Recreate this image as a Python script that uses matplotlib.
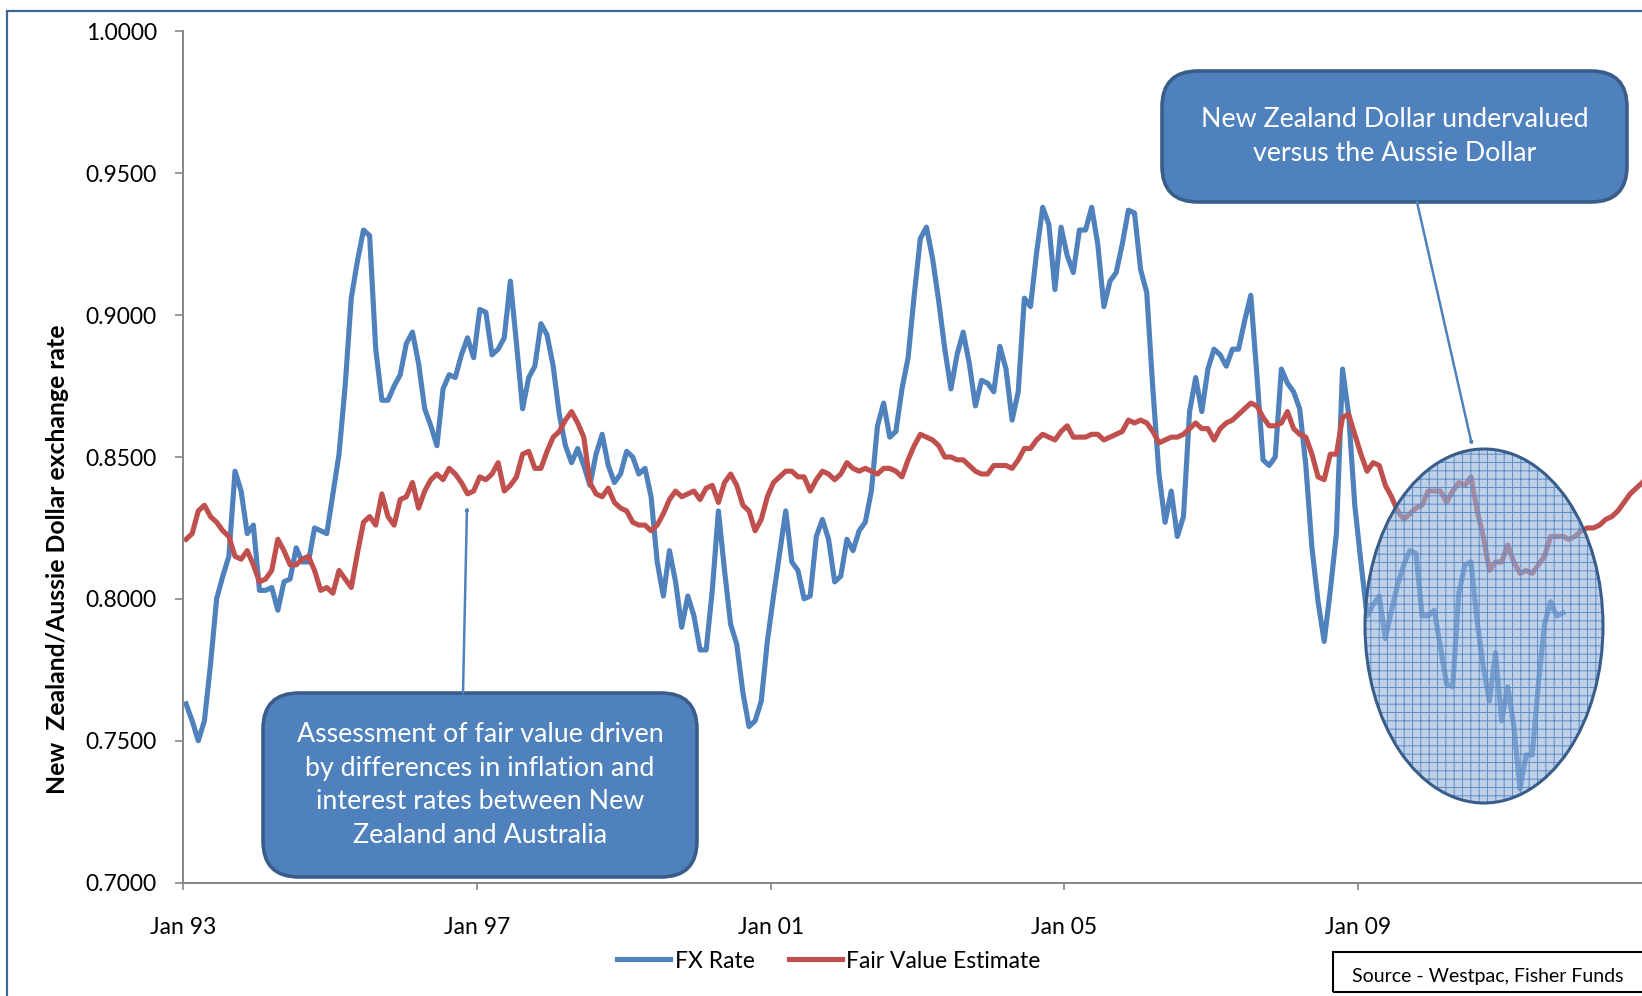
import numpy as np
import matplotlib
matplotlib.use("Agg")
import matplotlib.pyplot as plt
from matplotlib.patches import FancyBboxPatch, Ellipse, Rectangle, FancyArrowPatch

plt.rcParams['font.family'] = ['Lato', 'DejaVu Sans']

# Monthly NZD/AUD rate from Jan 1993
fx_rate = [
    0.763, 0.757, 0.750, 0.757, 0.777, 0.800, 0.808, 0.815, 0.845, 0.838, 0.823, 0.826,
    0.803, 0.803, 0.804, 0.796, 0.806, 0.807, 0.818, 0.813, 0.813, 0.825, 0.824, 0.823,
    0.837, 0.851, 0.875, 0.906, 0.919, 0.930, 0.928, 0.888, 0.870, 0.870, 0.875, 0.879,
    0.890, 0.894, 0.883, 0.867, 0.861, 0.854, 0.874, 0.879, 0.878, 0.886, 0.892, 0.885,
    0.902, 0.901, 0.886, 0.888, 0.892, 0.912, 0.890, 0.867, 0.878, 0.882, 0.897, 0.893,
    0.882, 0.865, 0.854, 0.848, 0.853, 0.847, 0.840, 0.851, 0.858, 0.847, 0.841, 0.844,
    0.852, 0.850, 0.844, 0.846, 0.836, 0.813, 0.801, 0.817, 0.806, 0.790, 0.801, 0.794,
    0.782, 0.782, 0.803, 0.831, 0.810, 0.791, 0.784, 0.767, 0.755, 0.757, 0.764, 0.785,
    0.801, 0.816, 0.831, 0.813, 0.810, 0.800, 0.801, 0.822, 0.828, 0.821, 0.806, 0.808,
    0.821, 0.817, 0.824, 0.827, 0.838, 0.861, 0.869, 0.857, 0.859, 0.874, 0.885, 0.907,
    0.927, 0.931, 0.920, 0.905, 0.888, 0.874, 0.886, 0.894, 0.883, 0.868, 0.877, 0.876,
    0.873, 0.889, 0.881, 0.863, 0.873, 0.906, 0.903, 0.922, 0.938, 0.932, 0.909, 0.931,
    0.921, 0.915, 0.930, 0.930, 0.938, 0.925, 0.903, 0.912, 0.915, 0.925, 0.937, 0.936,
    0.916, 0.908, 0.874, 0.844, 0.827, 0.838, 0.822, 0.829, 0.866, 0.878, 0.866, 0.881,
    0.888, 0.886, 0.882, 0.888, 0.888, 0.898, 0.907, 0.879, 0.849, 0.847, 0.850, 0.881,
    0.876, 0.873, 0.867, 0.847, 0.818, 0.799, 0.785, 0.803, 0.823, 0.881, 0.865, 0.833,
    0.813, 0.794, 0.798, 0.801, 0.786, 0.796, 0.805, 0.812, 0.817, 0.816, 0.794, 0.794,
    0.796, 0.783, 0.770, 0.769, 0.802, 0.812, 0.813, 0.792, 0.776, 0.764, 0.781, 0.757,
    0.769, 0.755, 0.733, 0.745, 0.745, 0.770, 0.791, 0.799, 0.794, 0.795,
]

fair_value = [
    0.821, 0.823, 0.831, 0.833, 0.829, 0.827, 0.824, 0.822, 0.815, 0.814, 0.817, 0.812,
    0.806, 0.807, 0.810, 0.821, 0.817, 0.812, 0.812, 0.814, 0.815, 0.810, 0.803, 0.804,
    0.802, 0.810, 0.807, 0.804, 0.816, 0.827, 0.829, 0.826, 0.837, 0.829, 0.826, 0.835,
    0.836, 0.841, 0.832, 0.838, 0.842, 0.844, 0.842, 0.846, 0.844, 0.841, 0.837, 0.838,
    0.843, 0.842, 0.844, 0.848, 0.838, 0.840, 0.843, 0.851, 0.852, 0.846, 0.846, 0.852,
    0.857, 0.859, 0.863, 0.866, 0.862, 0.857, 0.841, 0.837, 0.836, 0.839, 0.834, 0.832,
    0.831, 0.827, 0.826, 0.826, 0.824, 0.826, 0.830, 0.835, 0.838, 0.836, 0.837, 0.838,
    0.835, 0.839, 0.840, 0.834, 0.841, 0.844, 0.840, 0.833, 0.831, 0.824, 0.828, 0.836,
    0.841, 0.843, 0.845, 0.845, 0.843, 0.843, 0.838, 0.842, 0.845, 0.844, 0.842, 0.844,
    0.848, 0.846, 0.845, 0.846, 0.845, 0.844, 0.846, 0.846, 0.845, 0.843, 0.849, 0.854,
    0.858, 0.857, 0.856, 0.854, 0.850, 0.850, 0.849, 0.849, 0.847, 0.845, 0.844, 0.844,
    0.847, 0.847, 0.847, 0.846, 0.849, 0.853, 0.853, 0.856, 0.858, 0.857, 0.856, 0.859,
    0.861, 0.857, 0.857, 0.857, 0.858, 0.858, 0.856, 0.857, 0.858, 0.859, 0.863, 0.862,
    0.863, 0.862, 0.859, 0.855, 0.856, 0.857, 0.857, 0.858, 0.860, 0.862, 0.860, 0.860,
    0.856, 0.860, 0.862, 0.863, 0.865, 0.867, 0.869, 0.868, 0.864, 0.861, 0.861, 0.862,
    0.866, 0.860, 0.858, 0.857, 0.851, 0.843, 0.842, 0.851, 0.851, 0.864, 0.865, 0.858,
    0.851, 0.845, 0.848, 0.847, 0.840, 0.836, 0.831, 0.828, 0.830, 0.832, 0.833, 0.838,
    0.838, 0.838, 0.834, 0.838, 0.841, 0.840, 0.843, 0.831, 0.822, 0.810, 0.813, 0.813,
    0.819, 0.813, 0.809, 0.810, 0.809, 0.812, 0.815, 0.822, 0.822, 0.822, 0.821, 0.822,
    0.824, 0.825, 0.825, 0.826, 0.828, 0.829, 0.831, 0.834, 0.837, 0.839, 0.841,
]

tick_months = [0, 48, 96, 144, 192]
tick_labels = ['Jan 93', 'Jan 97', 'Jan 01', 'Jan 05', 'Jan 09']
y_ticks = [0.70, 0.75, 0.80, 0.85, 0.90, 0.95, 1.00]

blue = '#4f81bd'
red = '#c0504d'
dark = '#385d8a'

W, H = 1642, 996
fig = plt.figure(figsize=(W / 100, H / 100), dpi=100)


def inch(x, y):
    # pixel position (top-left origin) -> inches for dpi_scale_trans
    return x / 100, (H - y) / 100


# outer chart border (cropped on the right/bottom)
fig.patches.append(Rectangle(inch(7, 1200), 20, (1200 - 11) / 100, transform=fig.dpi_scale_trans,
                             fill=False, edgecolor='#3f6797', linewidth=1.6))

ax = fig.add_axes([183.3 / W, 1 - 882.6 / H, 1 - 183.3 / W, (882.6 - 31.4) / H])

x_fx = np.arange(len(fx_rate)) + 0.45
x_fv = np.arange(len(fair_value)) + 0.45
ax.plot(x_fx, fx_rate, color=blue, lw=3.7, solid_joinstyle='round', label='FX Rate')
ax.plot(x_fv, fair_value, color=red, lw=3.7, solid_joinstyle='round', label='Fair Value Estimate')

ax.set_xlim(0, (W - 183.3) / 6.119)
ax.set_ylim(0.70, 1.00)
ax.set_yticks(y_ticks)
ax.set_yticklabels([f'{v:.4f}' for v in y_ticks])
ax.set_xticks(tick_months)
ax.set_xticklabels(tick_labels)
ax.tick_params(axis='y', direction='out', length=6, width=1.2, color='#868686', pad=13, labelsize=16.5)
ax.tick_params(axis='x', direction='out', length=5, width=1.2, color='#868686', pad=20, labelsize=16.5)
for s in ['top', 'right']:
    ax.spines[s].set_visible(False)
for s in ['left', 'bottom']:
    ax.spines[s].set_color('#868686')
    ax.spines[s].set_linewidth(1.4)
ax.patch.set_alpha(0)

fig.text(58 / W, 1 - 559 / H, 'New  Zealand/Aussie Dollar exchange rate', rotation=90,
         ha='center', va='center', fontsize=17.8, fontweight='bold')

ax.legend(loc='center', bbox_to_anchor=(829 / W, 1 - 961 / H), bbox_transform=fig.transFigure,
          ncol=2, frameon=False, fontsize=16.5, handlelength=2.3, handletextpad=0.2,
          columnspacing=1.5)

# highlighted ellipse
cx, cy, ew, eh = 1484, 626, 238, 354
plt.rcParams['hatch.linewidth'] = 0.7
fig.patches.append(Ellipse(inch(cx, cy), ew / 100, eh / 100, transform=fig.dpi_scale_trans,
                           facecolor=(0.58, 0.70, 0.86, 0.6), edgecolor='#5f8cc4', hatch='++',
                           linewidth=0, zorder=5))
fig.patches.append(Ellipse(inch(cx, cy), ew / 100, eh / 100, transform=fig.dpi_scale_trans,
                           fill=False, edgecolor=dark, linewidth=2.2, zorder=6))


# callout boxes
def callout(x0, y0, x1, y1, text):
    bx, by = inch(x0, y1)
    fig.patches.append(FancyBboxPatch((bx, by), (x1 - x0) / 100, (y1 - y0) / 100,
                                      boxstyle='round,pad=0,rounding_size=0.36',
                                      transform=fig.dpi_scale_trans, facecolor=blue,
                                      edgecolor=dark, linewidth=2.6, zorder=7))
    tx, ty = inch((x0 + x1) / 2, (y0 + y1) / 2)
    fig.text(tx / (W / 100), ty / (H / 100), text, ha='center', va='center', color='white',
             fontsize=19.3, linespacing=1.42, zorder=8)


def arrow(p0, p1):
    fig.patches.append(FancyArrowPatch(inch(*p0), inch(*p1), transform=fig.dpi_scale_trans,
                                       arrowstyle='->,head_length=1.1,head_width=0.7',
                                       color=blue, linewidth=1.8, zorder=7,
                                       shrinkA=0, shrinkB=0))


callout(263, 693, 697, 877,
        'Assessment of fair value driven\nby differences in inflation and\n'
        'interest rates between New\nZealand and Australia')
arrow((463, 693), (467, 507))

callout(1162, 71, 1627, 202, 'New Zealand Dollar undervalued\nversus the Aussie Dollar')
arrow((1417, 202), (1472, 445))

# source box
fig.patches.append(Rectangle(inch(1333, 992), 4, 0.40, transform=fig.dpi_scale_trans,
                             fill=False, edgecolor='black', linewidth=1.5, zorder=7))
fig.text(1352 / W, 1 - 976 / H, 'Source - Westpac, Fisher Funds', ha='left', va='center',
         fontsize=14)

fig.savefig('out.png', dpi=100)
